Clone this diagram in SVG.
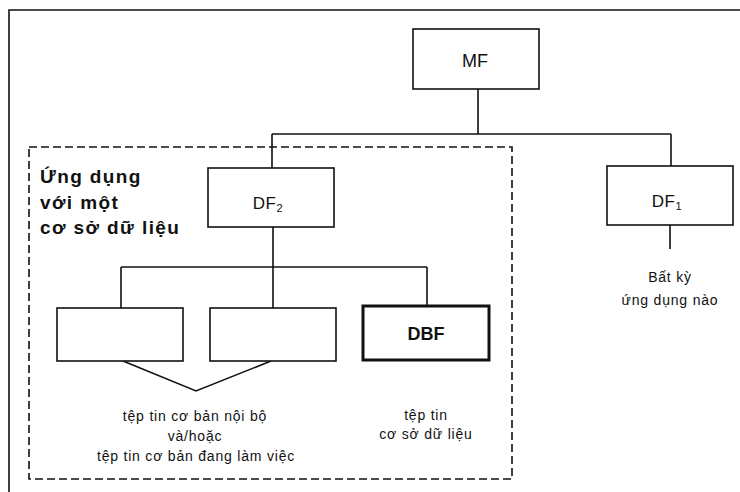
<svg xmlns="http://www.w3.org/2000/svg" width="740" height="492" viewBox="0 0 740 492">
<style>
.box{fill:#fff;stroke:#111;stroke-width:1.6}
.thick{fill:#fff;stroke:#111;stroke-width:3}
.ln{fill:none;stroke:#111;stroke-width:1.6}
.t{font-family:"Liberation Sans",Arial,sans-serif;fill:#111;text-anchor:middle}
.lbl{font-size:17px;letter-spacing:0.6px}
.sm{font-size:14px;letter-spacing:0.8px}
.hd{font-family:"Liberation Sans",Arial,sans-serif;font-size:19px;font-weight:bold;fill:#111;letter-spacing:1.4px}
</style>
<rect width="740" height="492" fill="#fff"/>
<path class="ln" d="M9,492 V10 H740" stroke-width="2"/>
<rect x="29" y="147" width="483" height="332" fill="none" stroke="#111" stroke-width="1.6" stroke-dasharray="8,4"/>
<g id="connectors">
<path class="ln" d="M478,89 V134 M272,134 H671 M272,134 V168 M671,134 V166 M670,225 V249"/>
<path class="ln" d="M273,227 V267 M121,267 H427 M121,267 V308 M273,267 V308 M427,267 V306"/>
<path class="ln" d="M123,361 L196,391 L271,361"/>
</g>
<g id="MF"><rect class="box" x="413" y="29" width="126" height="60"/><text class="t" font-size="18" x="475" y="67">MF</text></g>
<g id="DF2"><rect class="box" x="208" y="168" width="126" height="59"/><text class="t lbl" x="268" y="209">DF<tspan font-size="11" dy="3">2</tspan></text></g>
<g id="DF1"><rect class="box" x="607" y="166" width="126" height="59"/><text class="t lbl" x="667" y="207">DF<tspan font-size="11" dy="3">1</tspan></text></g>
<g id="B1"><rect class="box" x="57" y="308" width="126" height="53"/></g>
<g id="B2"><rect class="box" x="210" y="308" width="126" height="53"/></g>
<g id="DBF"><rect class="thick" x="363" y="306" width="126" height="54"/><text class="t" font-size="18" x="426" y="340" font-weight="bold">DBF</text></g>
<g id="heading">
<text class="hd" x="40" y="183">Ứng dụng</text>
<text class="hd" x="40" y="209">với một</text>
<text class="hd" x="40" y="234">cơ sở dữ liệu</text>
</g>
<g id="labels">
<text class="t sm" x="670" y="282">Bất kỳ</text>
<text class="t sm" x="670" y="305">ứng dụng nào</text>
<text class="t sm" x="195" y="421">tệp tin cơ bản nội bộ</text>
<text class="t sm" x="195" y="441">và/hoặc</text>
<text class="t sm" x="196" y="461">tệp tin cơ bản đang làm việc</text>
<text class="t sm" x="426" y="420">tệp tin</text>
<text class="t sm" x="426" y="439">cơ sở dữ liệu</text>
</g>
</svg>
